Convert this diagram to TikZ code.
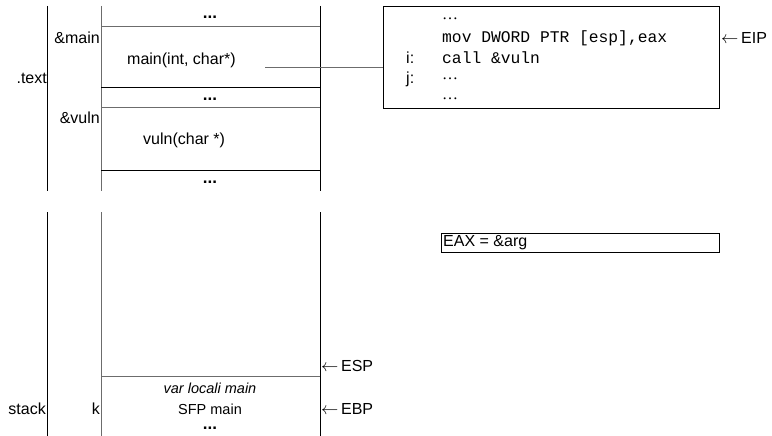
\documentclass[tikz,border=0pt]{standalone}
\usepackage{fontspec}
\setmainfont{Liberation Sans}
\setmonofont{Liberation Mono}
\newfontfamily\serifdots{Liberation Serif}
\begin{document}
\begin{tikzpicture}[x=1pt,y=-1pt,
  blk/.style={line width=1pt,black},
  gry/.style={line width=1pt,gray!85!black},
  lbl/.style={inner sep=0pt,font=\fontsize{16}{18}\selectfont},
  slbl/.style={inner sep=0pt,font=\fontsize{14.5}{16}\selectfont},
  code/.style={inner sep=0pt,anchor=west,font=\fontsize{16.3}{18}\ttfamily},
  cdots/.style={inner sep=0pt,anchor=west,font=\fontsize{16}{18}\serifdots},
  dots/.style={inner sep=0pt,font=\fontsize{17}{18}\selectfont\bfseries}]
\useasboundingbox (0,0) rectangle (772,436);
% text section columns
\draw[blk] (47,6) -- (47,191);
\draw[gry] (101,6) -- (101,191);
\draw[blk] (320,6) -- (320,191);
\draw[gry] (101,27) -- (320,27);
\draw[blk] (101,88) -- (320,88);
\draw[gry] (101,108) -- (320,108);
\draw[blk] (101,170) -- (320,170);
\node[dots] (d1) at (210,17) {...};
\node[dots] (d2) at (210,99) {...};
\node[dots] (d3) at (210,182) {...};
\node[lbl,anchor=east] (amain) at (100,38) {\&main};
\node[lbl,anchor=east] (text) at (47,78) {.text};
\node[lbl,anchor=east] (avuln) at (100,118) {\&vuln};
\node[lbl,anchor=west] (mainf) at (127,60) {main(int, char*)};
\node[lbl,anchor=west] (vulnf) at (143,140) {vuln(char *)};
% code box
\node[draw,line width=1pt,minimum width=336,minimum height=102,anchor=north west,inner sep=0pt] (codebox) at (383,6) {};
\coordinate (mainref) at (265,68);
\draw[gry] (mainref) -- (mainref -| codebox.west);
\node[cdots] (c0) at (442,19) {…};
\node[code] (c1) at (442,38) {mov DWORD PTR [esp],eax};
\node[lbl,anchor=west] (li) at (406,58) {i:};
\node[code] (c2) at (442,58) {call \&vuln};
\node[lbl,anchor=west] (lj) at (406,79) {j:};
\node[cdots] (c3) at (442,79) {…};
\node[cdots] (c4) at (442,99) {…};
\node[lbl,anchor=west] (eip) at (721,38) {$\leftarrow$\,EIP};
% EAX box
\node[draw,line width=1pt,minimum width=278,minimum height=19,anchor=north west,inner sep=0pt] (eaxbox) at (441,233) {};
\node[lbl,anchor=west] (eax) at (443,243) {EAX = \&arg};
% stack section
\draw[blk] (47,212) -- (47,436);
\draw[gry] (101,212) -- (101,436);
\draw[blk] (320,212) -- (320,436);
\draw[gry] (101,376) -- (320,376);
\node[slbl,font=\fontsize{14.5}{16}\selectfont\itshape] (vl) at (210,388) {var locali main};
\node[slbl] (sfp) at (210,409) {SFP main};
\node[dots] (d4) at (210,428) {...};
\node[lbl,anchor=east] (stack) at (46,409) {stack};
\node[lbl,anchor=east] (k) at (100,409) {k};
\node[lbl,anchor=west] (esp) at (321,366) {$\leftarrow$\,ESP};
\node[lbl,anchor=west] (ebp) at (321,409) {$\leftarrow$\,EBP};
\end{tikzpicture}
\end{document}
